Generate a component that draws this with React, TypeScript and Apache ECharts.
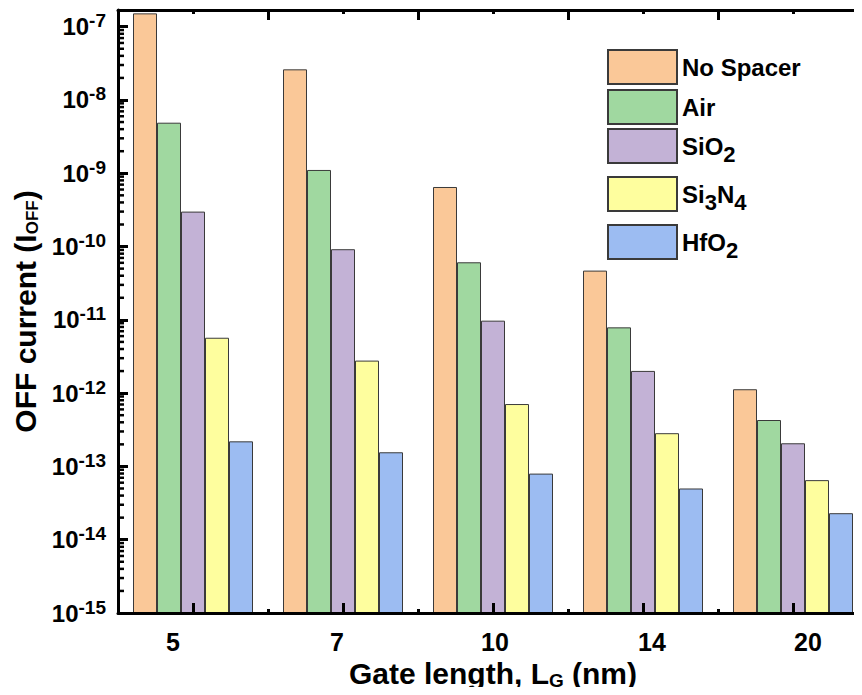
import React, { useEffect, useRef } from 'react';
import * as echarts from 'echarts';

// ---- data ----
const categories = ['5', '7', '10', '14', '20'];
const seriesNames = ['No Spacer', 'Air', 'SiO2', 'Si3N4', 'HfO2'];
const noSpacer = [1.52e-7, 2.62e-8, 6.5e-10, 4.7e-11, 1.13e-12];
const air = [4.9e-9, 1.11e-9, 6.1e-11, 7.9e-12, 4.3e-13];
const sio2 = [3.0e-10, 9.2e-11, 9.75e-12, 2.01e-12, 2.07e-13];
const si3n4 = [5.7e-12, 2.78e-12, 7.1e-13, 2.84e-13, 6.5e-14];
const hfo2 = [2.2e-13, 1.56e-13, 7.98e-14, 5.0e-14, 2.3e-14];
const yMinExp = -15;
const yMaxValue = 1.69e-7;

// ---- style ----
const colors = ['#FAC898', '#A0D8A0', '#C3B2D6', '#FEFE9E', '#9CBCF2'];
const legendTops = [41, 81, 120, 168, 216];
const labelShift = [-20, -6, 2, 9, 15];
const FONT = '"Liberation Sans", Arial, sans-serif';

const toAxis = (v: number) => Math.log10(v) - yMinExp;
const yMax = toAxis(yMaxValue);

const legendRich: Record<string, string> = {
  'No Spacer': '{m|No Spacer}',
  Air: '{m|Air}',
  SiO2: '{m|SiO}{s|2}',
  Si3N4: '{m|Si}{s|3}{m|N}{s|4}',
  HfO2: '{m|HfO}{s|2}',
};

export default function App() {
  const ref = useRef<HTMLDivElement>(null);
  useEffect(() => {
    if (!ref.current) return;
    const chart = echarts.init(ref.current, undefined, { renderer: 'svg' });
    const allSeries = [noSpacer, air, sio2, si3n4, hfo2];

    const minorTicks: number[] = [];
    for (let n = 0; n <= 8; n++) {
      for (let k = 2; k <= 9; k++) {
        const v = n + Math.log10(k);
        if (v < yMax) minorTicks.push(v);
      }
    }

    const xRich: Record<string, any> = {};
    labelShift.forEach((s, i) => {
      xRich['p' + i] = {
        fontSize: 25, fontWeight: 'bold', fontFamily: FONT, color: '#000',
        padding: s < 0 ? [0, -2 * s, 0, 0] : [0, 0, 0, 2 * s],
      };
    });

    const black = '#000';
    const option: any = {
      animation: false,
      backgroundColor: '#fff',
      grid: { left: 110, top: 2, right: 20, bottom: 74, containLabel: false, outerBoundsMode: 'none' },
      legend: seriesNames.map((name, i) => ({
        data: [name], left: 599, top: legendTops[i], padding: 0, itemWidth: 69, itemHeight: 34,
        icon: 'rect', selectedMode: false,
        formatter: (n: string) => legendRich[n] ?? n,
        textStyle: { rich: {
          m: { fontSize: 24, fontWeight: 'bold', fontFamily: FONT, color: '#000' },
          s: { fontSize: 22, fontWeight: 'bold', fontFamily: FONT, color: '#000', padding: [16, 0, 0, 0] },
        } },
      })),
      xAxis: [
        {
          type: 'category', data: categories, position: 'bottom', z: 10,
          name: '{t|Gate length, L}{s|G}{t| (nm)}', nameLocation: 'middle', nameGap: 37,
          nameTextStyle: { rich: {
            t: { fontSize: 30, fontWeight: 'bold', fontFamily: FONT, color: '#000' },
            s: { fontSize: 19, fontWeight: 'bold', fontFamily: FONT, color: '#000', padding: [14, 0, 0, 0] },
          } },
          axisLine: { show: true, onZero: false, lineStyle: { color: black, width: 3 } },
          axisTick: { show: true, inside: true, alignWithLabel: true, length: 10, lineStyle: { color: black, width: 3 } },
          axisLabel: { interval: 0, margin: 16, formatter: (v: string, i: number) => `{p${i}|${v}}`, rich: xRich },
          splitLine: { show: false },
        },
        {
          type: 'category', data: categories, position: 'bottom', z: 10,
          axisLine: { show: false, onZero: false },
          axisTick: { show: true, inside: true, alignWithLabel: false, interval: 0, length: 4, lineStyle: { color: black, width: 3 } },
          axisLabel: { show: false }, splitLine: { show: false },
        },
        {
          type: 'category', data: categories, position: 'top', z: 10,
          axisLine: { show: true, onZero: false, lineStyle: { color: black, width: 3 } },
          axisTick: { show: true, inside: true, alignWithLabel: false, interval: 0, length: 10, lineStyle: { color: black, width: 3 } },
          axisLabel: { show: false }, splitLine: { show: false },
        },
        {
          type: 'category', data: categories, position: 'top', z: 10,
          axisLine: { show: false, onZero: false },
          axisTick: { show: true, inside: true, alignWithLabel: true, interval: 0, length: 4, lineStyle: { color: black, width: 3 } },
          axisLabel: { show: false }, splitLine: { show: false },
        },
      ],
      yAxis: [
        {
          type: 'value', min: 0, max: yMax, interval: 1, position: 'left', z: 10,
          name: '{t|OFF current (I}{s|OFF}{t|)}', nameLocation: 'middle', nameGap: 74, nameRotate: 90,
          nameTextStyle: { rich: {
            t: { fontSize: 30, fontWeight: 'bold', fontFamily: FONT, color: '#000' },
            s: { fontSize: 17, fontWeight: 'bold', fontFamily: FONT, color: '#000', padding: [14, 0, 0, 0] },
          } },
          axisLine: { show: true, onZero: false, lineStyle: { color: black, width: 3 } },
          axisTick: { show: true, inside: true, length: 10, lineStyle: { color: black, width: 3 } },
          axisLabel: {
            margin: 12,
            formatter: (val: number) => {
              const n = Math.round(val);
              if (Math.abs(val - n) > 1e-6) return '';
              return `{b|10}{s|${n + yMinExp}}`;
            },
            rich: {
              b: { fontSize: 24, fontWeight: 'bold', fontFamily: FONT, color: '#000' },
              s: { fontSize: 19, fontWeight: 'bold', fontFamily: FONT, color: '#000', padding: [0, 0, 12, 0] },
            },
          },
          splitLine: { show: false },
        },
        {
          type: 'value', min: 0, max: 5, interval: 1, position: 'right', z: 10,
          axisLine: { show: true, onZero: false, lineStyle: { color: black, width: 3 } },
          axisTick: { show: true, inside: true, length: 12, lineStyle: { color: black, width: 3 } },
          axisLabel: { show: false }, splitLine: { show: false },
        },
      ],
      series: [
        ...seriesNames.map((name, i) => ({
          name, type: 'bar', xAxisIndex: 0, yAxisIndex: 0, barWidth: 24, barGap: '0%',
          data: allSeries[i].map(toAxis),
          itemStyle: { color: colors[i], borderColor: '#3a3a3a', borderWidth: 1 },
        })),
        {
          type: 'custom', xAxisIndex: 0, yAxisIndex: 0, silent: true, z: 12, clip: false,
          data: minorTicks.map((v) => [0, v]),
          renderItem: (params: any, api: any) => {
            const y = api.coord([0, api.value(1)])[1];
            const x0 = params.coordSys.x;
            return {
              type: 'rect',
              shape: { x: x0, y: y - 1.25, width: 6, height: 2.5 },
              style: { fill: '#000' },
            };
          },
        },
      ],
    };
    chart.setOption(option);
    return () => chart.dispose();
  }, []);

  return (
    <div style={{ width: 854, height: 679, overflow: 'hidden' }}>
      <div ref={ref} style={{ width: 880, height: 679 }} />
    </div>
  );
}
